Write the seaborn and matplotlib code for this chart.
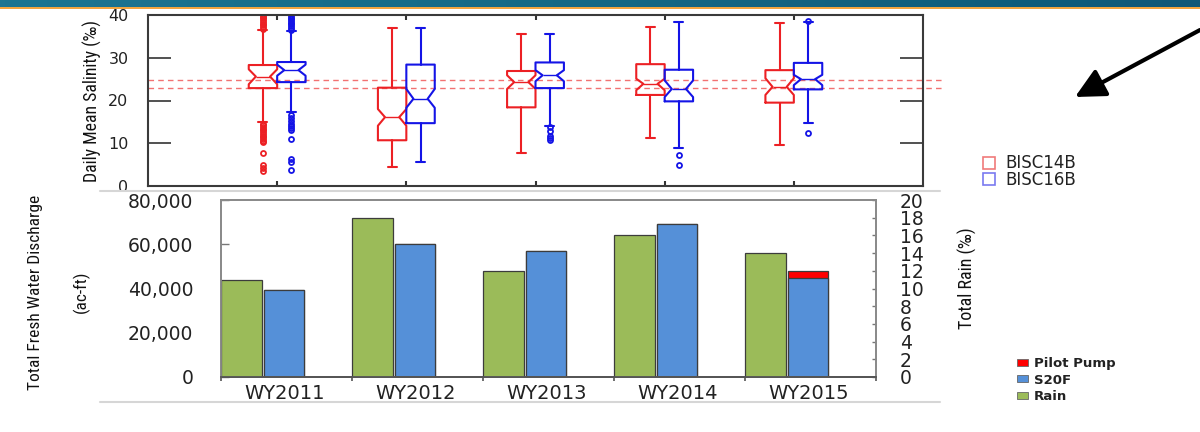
import numpy as np
import pandas as pd
import matplotlib
matplotlib.use("Agg")
import matplotlib.pyplot as plt
import seaborn as sns
from matplotlib import font_manager
from matplotlib.lines import Line2D
from matplotlib.patches import Rectangle, FancyArrowPatch
from matplotlib.colors import LinearSegmentedColormap
from matplotlib.ticker import FuncFormatter

# ---------------- data ----------------
years = ["WY2011", "WY2012", "WY2013", "WY2014", "WY2015"]
stations = ["BISC14B", "BISC16B"]

# daily mean salinity box statistics (per mille)
b14_whislo = [15.0, 4.5, 7.8, 11.2, 9.6]
b14_q1 = [22.9, 10.7, 18.4, 21.3, 19.5]
b14_cilo = [23.8, 14.1, 22.7, 22.4, 21.3]
b14_med = [25.6, 16.1, 24.3, 23.9, 23.2]
b14_cihi = [27.3, 18.0, 25.9, 25.1, 25.2]
b14_q3 = [28.3, 23.0, 26.9, 28.5, 27.1]
b14_whishi = [36.5, 36.9, 35.5, 37.1, 38.1]
b14_fliers = [
    [3.5, 4.3, 5.0, 7.7, 10.2, 10.6, 11.0, 11.4, 11.8, 12.2, 12.6, 13.0,
     13.4, 13.8, 14.2, 14.6, 36.8, 37.2, 37.6, 38.0, 38.4, 38.8, 39.2,
     39.6, 40.0],
    [], [], [], []]

b16_whislo = [17.3, 5.5, 14.1, 9.0, 14.7]
b16_q1 = [24.3, 14.7, 22.9, 19.8, 22.6]
b16_cilo = [25.8, 18.3, 24.5, 20.8, 23.6]
b16_med = [27.1, 20.4, 25.9, 22.7, 25.0]
b16_cihi = [28.4, 22.7, 27.1, 24.7, 26.0]
b16_q3 = [29.0, 28.4, 28.9, 27.2, 28.8]
b16_whishi = [36.3, 36.9, 35.5, 38.3, 38.3]
b16_fliers = [
    [3.8, 5.7, 6.2, 11.0, 13.0, 13.6, 14.1, 14.6, 15.1, 16.0, 16.5,
     36.6, 37.0, 37.4, 37.8, 38.2, 38.6, 39.0, 39.4, 39.8],
    [], [10.7, 11.2, 11.8, 12.8, 13.7], [4.9, 7.3], [12.3, 38.7]]

ref_levels = [24.7, 22.9]

rain = [11, 18, 12, 16, 14]                 # Total Rain (right axis)
s20f = [39200, 60000, 56900, 69100, 44700]  # ac-ft
pilot_pump = [0, 0, 0, 0, 3300]             # ac-ft

# ---------------- style ----------------
sns.set_style("ticks")
plt.rcParams["font.family"] = ["DejaVu Sans"]
avail = {f.name for f in font_manager.fontManager.ttflist}
narrow = next((n for n in ["Liberation Sans Narrow", "Roboto Condensed",
                           "Open Sans Condensed", "Liberation Sans"] if n in avail),
              "DejaVu Sans")

RED = "#ec2024"
BLUE = "#1414e6"
GREEN = "#9bbb59"
BARBLUE = "#5590d8"
PUMPRED = "#ff0000"
EDGE = "#3c3c3c"

fig = plt.figure(figsize=(12, 4.32), dpi=100)
W, H = 1200, 432

def fx(px):
    return px / W

def fy(py):
    return 1 - py / H

# ---------------- banner & decorations ----------------
band = fig.add_axes([0, fy(7), 1, 7 / H])
cmap = LinearSegmentedColormap.from_list("band", ["#1b7592", "#146885", "#0e5878"])
band.imshow(np.linspace(0, 1, 256)[None, :], aspect="auto", cmap=cmap)
band.set_axis_off()
fig.add_artist(Line2D([0, 1], [fy(7.8), fy(7.8)], color="#f2a33a", lw=1.4))
for yy in (191, 402):
    fig.add_artist(Line2D([fx(100), fx(940)], [fy(yy), fy(yy)], color="#d6d6d6", lw=1.5))

# ---------------- top: salinity boxplots ----------------
ax = fig.add_axes([fx(148), fy(186), fx(923 - 148), (186 - 15) / H])

def make_stats(lo, q1, cl, md, ch, q3, hi, fl):
    return [dict(whislo=lo[i], q1=q1[i], cilo=cl[i], med=md[i], cihi=ch[i],
                 q3=q3[i], whishi=hi[i], fliers=fl[i]) for i in range(len(years))]

st14 = make_stats(b14_whislo, b14_q1, b14_cilo, b14_med, b14_cihi, b14_q3, b14_whishi, b14_fliers)
st16 = make_stats(b16_whislo, b16_q1, b16_cilo, b16_med, b16_cihi, b16_q3, b16_whishi, b16_fliers)
pos = np.arange(1, len(years) + 1)
for stats, col, off in ((st14, RED, -0.11), (st16, BLUE, 0.11)):
    ax.bxp(stats, pos + off, widths=0.22, shownotches=True, manage_ticks=False,
           capwidths=0.07,
           boxprops=dict(color=col, lw=1.5),
           whiskerprops=dict(color=col, lw=1.5),
           capprops=dict(color=col, lw=1.5),
           medianprops=dict(color=col, lw=1.0),
           flierprops=dict(marker="o", markersize=3.6, markerfacecolor="none",
                           markeredgecolor=col, markeredgewidth=1.3))

for lvl in ref_levels:
    ax.plot([0, 1.025], [lvl, lvl], transform=ax.get_yaxis_transform(),
            color="#f27272", lw=1.0, dashes=(4, 3), clip_on=False, zorder=1)

ax.set_xlim(0, 6)
ax.set_ylim(0, 40)
ax.set_yticks([0, 10, 20, 30, 40])
ax.set_xticks(pos, labels=[""] * len(pos))
ax.tick_params(axis="y", direction="in", length=16.5, width=1.2, color="#333333",
               right=True, labelsize=11.5, pad=14, labelcolor="#222222")
ax.tick_params(axis="x", direction="in", length=3.5, width=1.5, color="#333333", top=True)
for sp in ax.spines.values():
    sp.set_color("#3a3a3a")
    sp.set_linewidth(1.5)
ax.set_ylabel("Daily Mean Salinity (‰)", family=[narrow, "DejaVu Sans"],
              fontsize=12.8, color="#111111")
ax.yaxis.set_label_coords(-0.059, 0.5)

top_handles = [Line2D([], [], marker="s", linestyle="none", markersize=8,
                      markerfacecolor="none", markeredgecolor=c, markeredgewidth=1.2)
               for c in ("#f07a7a", "#7a7af0")]
fig.legend(top_handles, stations, loc="center left", bbox_to_anchor=(fx(972), fy(171.5)),
           frameon=False, fontsize=12, handlelength=1.0, handletextpad=0.5,
           labelspacing=-0.1, borderpad=0, labelcolor="#222222")

# ---------------- bottom: discharge / rain bars ----------------
ax1 = fig.add_axes([fx(221), fy(377), fx(876 - 221), (377 - 200) / H])
ax2 = ax1.twinx()
hue_levels = ["Rain", "S20F"]
df_total = pd.DataFrame({"year": years, "source": "S20F",
                         "value": np.add(s20f, pilot_pump)})
df_s20f = pd.DataFrame({"year": years, "source": "S20F", "value": s20f})
df_rain = pd.DataFrame({"year": years, "source": "Rain", "value": rain})
common = dict(x="year", y="value", hue="source", order=years, hue_order=hue_levels,
              dodge=True, width=0.65, gap=0.05, edgecolor=EDGE, linewidth=0.9,
              legend=False, errorbar=None, saturation=1)
sns.barplot(data=df_total, ax=ax1, palette={"Rain": GREEN, "S20F": PUMPRED}, **common)
sns.barplot(data=df_s20f, ax=ax1, palette={"Rain": GREEN, "S20F": BARBLUE}, **common)
sns.barplot(data=df_rain, ax=ax2, palette={"Rain": GREEN, "S20F": BARBLUE}, **common)

x0 = -0.318
ax1.set_xlim(x0, x0 + len(years))
ax1.set_ylim(0, 80000)
ax2.set_ylim(0, 20)
ax1.set_yticks(np.arange(0, 80001, 20000))
ax1.yaxis.set_major_formatter(FuncFormatter(lambda v, p: f"{v:,.0f}"))
ax2.set_yticks(np.arange(0, 21, 2))
ax1.set_xticks(x0 + np.arange(len(years) + 1), labels=[""] * (len(years) + 1))
ax1.set_xticks(np.arange(len(years)) + 0.17, labels=years, minor=True)
ax1.tick_params(axis="x", which="major", direction="out", length=3, width=1.2, color="#555555")
ax1.tick_params(axis="x", which="minor", length=0, pad=5, labelsize=14, labelcolor="#222222")
ax1.tick_params(axis="y", direction="in", length=6, width=1.0, color="#777777",
                labelsize=13.5, pad=20, labelcolor="#222222")
ax2.tick_params(axis="y", direction="in", length=3, width=1.0, color="#777777",
                labelsize=13.5, pad=17, labelcolor="#222222")
for a in (ax1, ax2):
    for name, sp in a.spines.items():
        sp.set_color("#555555" if name == "bottom" else "#8a8a8a")
        sp.set_linewidth(1.3)
ax1.set_xlabel("")
ax1.set_ylabel("Total Fresh Water Discharge\n(ac-ft)", family=[narrow, "DejaVu Sans"],
               fontsize=12.5, color="#111111", linespacing=3.2)
ax1.yaxis.set_label_coords(-0.2, 0.48)
ax2.set_ylabel("Total Rain (‰)", family=[narrow, "DejaVu Sans"], fontsize=13,
               color="#111111", rotation=90)
ax2.yaxis.set_label_coords(1.125, 0.56)

bot_handles = [Rectangle((0, 0), 1, 1, facecolor=c, edgecolor="#666666", lw=0.6)
               for c in (PUMPRED, BARBLUE, GREEN)]
fig.legend(bot_handles, ["Pilot Pump", "S20F", "Rain"], loc="center left",
           bbox_to_anchor=(fx(1010), fy(380)), frameon=False,
           prop=dict(weight="bold", size=9.5), handlelength=0.9, handleheight=0.45,
           handletextpad=0.4, labelspacing=0.25, borderpad=0, labelcolor="#222222")

# ---------------- arrow ----------------
fig.add_artist(FancyArrowPatch(posA=(1.0, fy(30)), posB=(fx(1075), fy(97)),
                               transform=fig.transFigure,
                               arrowstyle="-|>,head_length=0.5,head_width=0.25",
                               mutation_scale=36, lw=3.0, color="black",
                               shrinkA=0, shrinkB=0))

fig.savefig("out.png", dpi=100)
